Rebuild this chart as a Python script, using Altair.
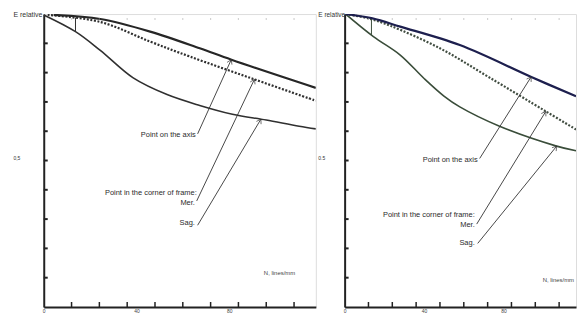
import altair as alt
import pandas as pd
import numpy as np
import math

# ---------------- data ----------------
# Left panel
L_axis_x = [4.3, 24.4, 45.9, 67.3, 81.0, 117.4]
L_axis_y = [0.997, 0.983, 0.940, 0.883, 0.844, 0.748]
L_mer_x = [1.7, 24.4, 45.9, 63.0, 90.9, 117.4]
L_mer_y = [0.997, 0.973, 0.906, 0.855, 0.777, 0.704]
L_sag_x = [0.0, 13.7, 24.4, 38.6, 53.2, 67.3, 81.4, 96.0, 110.2, 117.4]
L_sag_y = [0.997, 0.940, 0.876, 0.782, 0.725, 0.688, 0.658, 0.638, 0.617, 0.608]

# Right panel
R_axis_x = [0.5, 14.0, 28.0, 58.0, 94.0, 116.5]
R_axis_y = [1.000, 0.985, 0.957, 0.894, 0.785, 0.719]
R_mer_x = [0.5, 12.0, 23.0, 48.0, 73.0, 101.5, 116.5]
R_mer_y = [1.000, 0.985, 0.960, 0.883, 0.783, 0.667, 0.606]
R_sag_x = [0.5, 14.5, 28.0, 40.0, 50.0, 58.0, 78.0, 106.3, 116.5]
R_sag_y = [1.000, 0.923, 0.860, 0.780, 0.720, 0.683, 0.617, 0.550, 0.533]

x_tick_values = [12, 24, 36, 48, 60, 72, 84, 96, 108]
x_label_values = [0, 40, 80]
y_tick_values = [0.1, 0.2, 0.3, 0.4, 0.5, 0.6, 0.7, 0.8, 0.9]
y_label_values = [0.5, 1.0]

# annotation anchors (arrow tail in data units) and arrow target x on curve
L_arrow_from = {"axis": (66.4, 0.591), "mer": (66.0, 0.362), "sag": (66.4, 0.279)}
L_arrow_to_x = {"axis": 80.9, "mer": 90.9, "sag": 93.7}
R_arrow_from = {"axis": (68.0, 0.507), "mer": (66.5, 0.283), "sag": (67.0, 0.217)}
R_arrow_to_x = {"axis": 93.9, "mer": 101.3, "sag": 106.8}

label_axis = "Point on the axis"
label_corner = "Point in the corner of frame:"
label_mer = "Mer."
label_sag = "Sag."
label_N = "N, lines/mm"

FONT = "Liberation Sans"
H = 295


def panel(axis_xy, mer_xy, sag_xy, arrow_from, arrow_to_x, width, xmax,
          col_axis, col_mer, col_sag, y_label_pad, e_font, half_label,
          text_pos, n_pos, marker_x):
    xs = alt.Scale(domain=[0, xmax], nice=False, zero=False)
    ys = alt.Scale(domain=[0, 1], nice=False, zero=False)

    xaxis = alt.Axis(values=x_label_values, ticks=False, grid=False, title=None,
                     domainWidth=2, domainColor="#222", labelFontSize=5,
                     labelColor="#444", labelPadding=2, labelFlush=False,
                     labelFont=FONT)
    yaxis = alt.Axis(values=y_label_values, ticks=False, grid=False, title=None,
                     domainWidth=2, domainColor="#222",
                     labelExpr=f"datum.value == 1 ? 'E relative' : '{half_label}'",
                     labelAlign="left", labelPadding=y_label_pad,
                     labelFontSize={"condition": {"test": "datum.value == 1", "value": e_font}, "value": 5},
                     labelBaseline={"condition": {"test": "datum.value == 1", "value": "middle"}, "value": "bottom"},
                     labelColor="#333", labelFont=FONT)

    def curve(xy, color, dash, sw):
        df = pd.DataFrame({"x": xy[0], "y": xy[1]})
        m = alt.Chart(df).mark_line(strokeWidth=sw, clip=True,
                                    interpolate="catmull-rom",
                                    **({"strokeDash": dash} if dash else {}))
        return m.encode(x=alt.X("x:Q", scale=xs, axis=xaxis),
                        y=alt.Y("y:Q", scale=ys, axis=yaxis),
                        color=alt.value(color))

    c_axis = curve(axis_xy, col_axis, None, 2.2)
    c_mer = curve(mer_xy, col_mer, [2, 1.6], 2.2)
    c_sag = curve(sag_xy, col_sag, None, 1.6)

    # inward ticks
    xt = alt.Chart(pd.DataFrame({"x": x_tick_values})).mark_rule(
        strokeWidth=1.5, clip=True).encode(
        x=alt.X("x:Q", scale=xs), y=alt.value(H), y2=alt.value(H - 5),
        color=alt.value("#222"))
    yt = alt.Chart(pd.DataFrame({"y": y_tick_values})).mark_rule(
        strokeWidth=2).encode(
        y=alt.Y("y:Q", scale=ys), x=alt.value(0), x2=alt.value(4),
        color=alt.value("#222"))
    # faint dots at top
    dots = alt.Chart(pd.DataFrame({"x": x_tick_values, "y": [0.983] * len(x_tick_values)})).mark_point(
        filled=True, size=2, clip=True).encode(
        x=alt.X("x:Q", scale=xs), y=alt.Y("y:Q", scale=ys), color=alt.value("#999"))

    # small vertical marker between curves
    ya = float(np.interp(marker_x, axis_xy[0], axis_xy[1]))
    yb = float(np.interp(marker_x, sag_xy[0], sag_xy[1]))
    marker = alt.Chart(pd.DataFrame({"x": [marker_x], "y": [ya - 0.003], "y2": [yb]})).mark_rule(
        strokeWidth=1).encode(
        x=alt.X("x:Q", scale=xs), y=alt.Y("y:Q", scale=ys), y2="y2:Q",
        color=alt.value(col_sag))

    # arrows
    sx = width / xmax
    sy = H
    rows = []
    for key, xy in (("axis", axis_xy), ("mer", mer_xy), ("sag", sag_xy)):
        x0, y0 = arrow_from[key]
        x1 = arrow_to_x[key]
        y1 = float(np.interp(x1, xy[0], xy[1]))
        dxp = (x1 - x0) * sx
        dyp = -(y1 - y0) * sy
        ang = math.degrees(math.atan2(dxp, -dyp)) % 360
        rows.append({"x": x0, "y": y0, "x2": x1, "y2": y1, "ang": ang})
    adf = pd.DataFrame(rows)
    shafts = alt.Chart(adf).mark_rule(strokeWidth=0.9).encode(
        x=alt.X("x:Q", scale=xs), y=alt.Y("y:Q", scale=ys), x2="x2:Q", y2="y2:Q",
        color=alt.value("#333"))
    heads = alt.Chart(adf).mark_point(
        shape="M-0.7,1.1L0,0L0.7,1.1", filled=False, size=60,
        strokeWidth=0.9).encode(
        x=alt.X("x2:Q", scale=xs), y=alt.Y("y2:Q", scale=ys),
        angle=alt.Angle("ang:Q", scale=None), color=alt.value("#333"))

    # texts
    tdf = pd.DataFrame({
        "x": [p[0] for p in text_pos],
        "y": [p[1] for p in text_pos],
        "t": [label_axis, label_corner, label_mer, label_sag],
    })
    texts = alt.Chart(tdf).mark_text(align="right", baseline="middle", font=FONT,
                                     fontSize=7.5).encode(
        x=alt.X("x:Q", scale=xs), y=alt.Y("y:Q", scale=ys), text="t:N",
        color=alt.value("#2b2b2b"))
    ntext = alt.Chart(pd.DataFrame({"x": [n_pos[0]], "y": [n_pos[1]], "t": [label_N]})).mark_text(
        align="right", baseline="middle", font=FONT, fontSize=6).encode(
        x=alt.X("x:Q", scale=xs), y=alt.Y("y:Q", scale=ys), text="t:N",
        color=alt.value("#444"))

    return alt.layer(c_sag, c_mer, c_axis, xt, yt, dots, marker, shafts, heads,
                     texts, ntext).properties(width=width, height=H)


left = panel((L_axis_x, L_axis_y), (L_mer_x, L_mer_y), (L_sag_x, L_sag_y),
             L_arrow_from, L_arrow_to_x, 274, 117.4,
             "#262626", "#303030", "#303030", 31, 7, "0,5",
             [(65.6, 0.587), (66.0, 0.389), (65.2, 0.356), (65.2, 0.285)],
             (108.5, 0.117), 13.7)

right = panel((R_axis_x, R_axis_y), (R_mer_x, R_mer_y), (R_sag_x, R_sag_y),
              R_arrow_from, R_arrow_to_x, 233, 116.5,
              "#1d1f4e", "#414d41", "#3a4d3a", 27, 6.5, "0.5",
              [(67.0, 0.500), (65.5, 0.313), (65.5, 0.280), (65.5, 0.217)],
              (115.5, 0.093), 13.5)

chart = alt.hconcat(left, right, spacing=0).properties(
    padding={"left": 4, "top": 0, "right": 0, "bottom": 0}
).configure_view(stroke=None).configure(background="white")

chart.save("out.html", embed_options={"renderer": "svg", "actions": False})
